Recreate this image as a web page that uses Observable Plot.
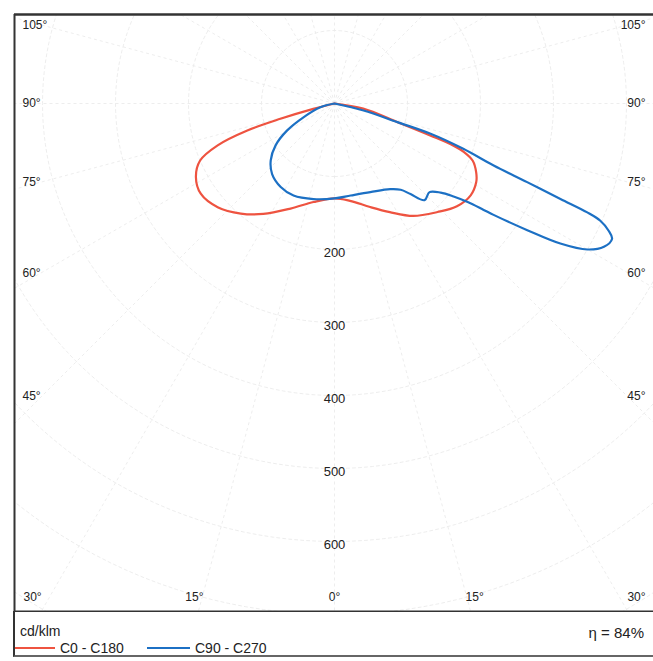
<!DOCTYPE html>
<html><head><meta charset="utf-8">
<script src="https://cdn.jsdelivr.net/npm/d3@7"></script>
<script src="https://cdn.jsdelivr.net/npm/@observablehq/plot@0.6"></script>
<style>
html,body{margin:0;padding:0;background:#fff;}
#wrap{position:relative;width:653px;height:661px;overflow:hidden;font-family:"Liberation Sans",Arial,sans-serif;color:#222;}
#chart{position:absolute;left:0;top:0;}
#legend{position:absolute;left:13px;top:611px;width:660px;height:44px;border-left:2px solid #333;border-bottom:2px solid #666;}
#legend span{position:absolute;white-space:nowrap;}
#legend .sw{height:2px;}
</style></head><body>
<div id="wrap"><div id="chart"></div><div id="legend"></div></div>
<script>
// ---- Data (cd/klm vs. gamma angle in degrees) ----
const gammaC0 = [0, 9, 19, 27, 35, 43.5, 50, 56, 61, 64, 67.5, 69.5, 70.5, 71.5, 73.5, 80, 90];
const intensityC0 = [130, 135, 150, 167, 188, 205, 219, 225, 222, 216, 205, 189, 173, 139, 90, 40, 0];
const gammaC180 = [0, 12, 22.7, 32.8, 40.4, 48.4, 56, 62, 67, 70.3, 72.8, 74.2, 75.8, 90];
const intensityC180 = [130, 138, 156, 180, 198, 214, 221, 215, 200, 170, 125, 77, 30, 0];
const gammaC90 = [0, 10, 22, 33, 37.5, 40, 43, 47, 50, 52, 53.5, 54.5, 55, 56.7, 58.2, 60, 62, 64, 65.1, 66.2, 66.7, 67.1, 67.8, 68.7, 70.6, 72.5, 73.5, 76.5, 90];
const intensityC90 = [130, 128, 131, 140, 149, 162, 181, 178, 190, 207, 227, 251, 266, 316, 364, 400, 418, 423, 414, 398, 377, 336, 285, 234, 187, 138, 90, 41, 0];
const gammaC270 = [0, 12.4, 24, 32.8, 41.5, 48.3, 54.6, 60.3, 66.2, 75.2, 90];
const intensityC270 = [130, 134, 138, 136, 129, 117, 99, 75, 46, 20, 0];

const seriesNames = ["C0 - C180", "C90 - C270"];
const seriesColors = ["#ee5340", "#1c70c4"];
const radialTickValues = [200, 300, 400, 500, 600];
const gridRadii = [100, 200, 300, 400, 500, 600, 700, 800, 900];
const gridAngleStep = 15;
const sideAngles = [105, 90, 75, 60, 45];
const bottomAngles = [-30, -15, 0, 15, 30];
const unitLabel = "cd/klm";
const efficiencyLabel = "η = 84%";

// ---- Layout ----
const W = 653, H = 612, mL = 14, mT = 14, mR = 0, mB = 1;
const cx = 334, cy = 103, k = 0.73; // center pixel, px per cd/klm
const xDomain = [(mL - cx) / k, (W - mR - cx) / k];
const yDomain = [-(H - mB - cy) / k, (cy - mT) / k];
const rad = d => d * Math.PI / 180;

function side(gammas, values, sign) {
  return gammas.map((g, i) => ({x: sign * values[i] * Math.sin(rad(g)), y: -values[i] * Math.cos(rad(g))}));
}
const curves = [];
function addSeries(name, gl, il, gr, ir) {
  const left = side(gl, il, -1).reverse();
  const right = side(gr, ir, 1).slice(1);
  left.concat(right).forEach(p => curves.push({...p, series: name}));
}
addSeries(seriesNames[0], gammaC180, intensityC180, gammaC0, intensityC0);
addSeries(seriesNames[1], gammaC270, intensityC270, gammaC90, intensityC90);

const circlePts = [];
gridRadii.forEach(r => { for (let a = 0; a <= 360; a += 2) circlePts.push({r, x: r * Math.sin(rad(a)), y: -r * Math.cos(rad(a))}); });
const rays = d3.range(0, 360, gridAngleStep).map(a => ({x2: 1200 * Math.sin(rad(a)), y2: -1200 * Math.cos(rad(a))}));

// label anchor distances (px) for the rays that place the angle labels
const sideDist = 293 / k, bottomDist = 523 / k;
const sideLabelY = a => -sideDist * Math.cos(rad(a)) / Math.sin(rad(a));
const labelFont = {fontSize: 12, fill: "#222"};

const plot = Plot.plot({
  width: W, height: H, marginLeft: mL, marginTop: mT, marginRight: mR, marginBottom: mB,
  x: {domain: xDomain, axis: null},
  y: {domain: yDomain, axis: null},
  color: {domain: seriesNames, range: seriesColors},
  style: {fontFamily: "'Liberation Sans', Arial, sans-serif", background: "#fff"},
  marks: [
    Plot.line(circlePts, {x: "x", y: "y", z: "r", stroke: "#ebebeb", strokeWidth: 0.9, strokeDasharray: "3,3", clip: true}),
    Plot.link(rays, {x1: 0, y1: 0, x2: "x2", y2: "y2", stroke: "#ebebeb", strokeWidth: 0.9, strokeDasharray: "3,3", clip: true}),
    Plot.text(radialTickValues, {x: 0, y: d => -d, text: d => String(d), dy: 3, fontSize: 13, fill: "#222"}),
    Plot.text(sideAngles, {x: xDomain[0] + 8 / k, y: sideLabelY, text: d => d + "°", textAnchor: "start", ...labelFont}),
    Plot.text(sideAngles, {x: xDomain[1] - 8 / k, y: sideLabelY, text: d => d + "°", textAnchor: "end", ...labelFont}),
    Plot.text(bottomAngles, {x: d => bottomDist * Math.tan(rad(d)), y: yDomain[0] + 14 / k, text: d => Math.abs(d) + "°", ...labelFont}),
    Plot.line(curves, {x: "x", y: "y", z: "series", stroke: "series", strokeWidth: 2.2, curve: "catmull-rom"}),
    Plot.ruleX([xDomain[0]], {stroke: "#333", strokeWidth: 2}),
    Plot.ruleY([yDomain[1]], {stroke: "#333", strokeWidth: 2.5}),
    Plot.ruleY([yDomain[0]], {stroke: "#333", strokeWidth: 2})
  ]
});
document.getElementById("chart").appendChild(plot);

// ---- Legend ----
const lg = document.getElementById("legend");
function span(text, css) { const s = document.createElement("span"); s.textContent = text; s.style.cssText = css; lg.appendChild(s); return s; }
span(unitLabel, "left:5px;top:13px;font-size:14px;line-height:14px;");
const swatchLeft = [0, 132], swatchWidth = [40, 43], labelLeft = [45, 180];
seriesNames.forEach((n, i) => {
  const sw = span("", `left:${swatchLeft[i]}px;top:36px;width:${swatchWidth[i]}px;background:${seriesColors[i]};`);
  sw.className = "sw";
  span(n, `left:${labelLeft[i]}px;top:30px;font-size:14px;line-height:14px;`);
});
span(efficiencyLabel, "top:14px;font-size:15px;line-height:15px;transform:translateX(-100%);left:629px;");
</script></body></html>
